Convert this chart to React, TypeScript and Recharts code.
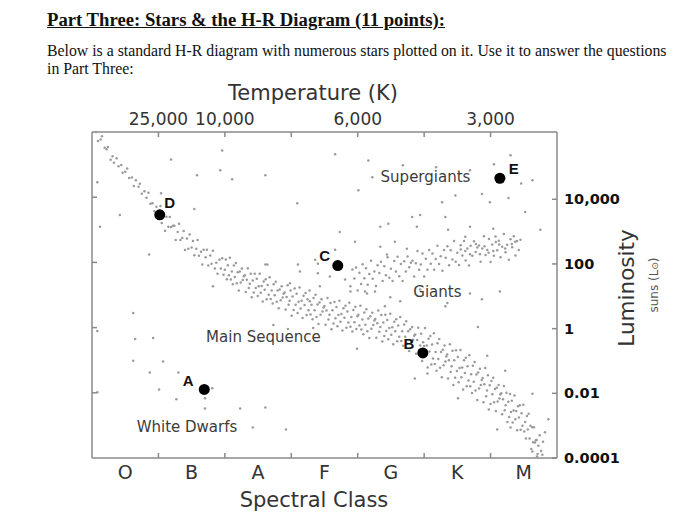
import { Scatter, ScatterChart, XAxis, YAxis } from "recharts";

// x = spectral position (0 = start of O, 7 = end of M), y = log10(L / Lsun)
const spectralClasses = ["O", "B", "A", "F", "G", "K", "M"];
const spectralTicks = [0.5, 1, 1.5, 2, 2.5, 3, 3.5, 4, 4.5, 5, 5.5, 6, 6.5];
const temperatureTicks = [1, 2, 3, 4, 5, 6];
const temperatureLabels = ["25,000", "10,000", "", "6,000", "", "3,000"];
const luminosityTicks = [4, 2, 0, -2, -4];
const luminosityLabels = ["10,000", "100", "1", "0.01", "0.0001"];
const leftTicks = [4, 2, 0, -2];

const mainSequence: [number, number][] = [
  [0.06, 6.08], [0.09, 5.8], [0.13, 5.85], [0.15, 5.95], [0.19, 5.59], [0.22, 5.55], [0.24, 5.62],
  [0.28, 5.22], [0.31, 5.33], [0.33, 5.13], [0.37, 5.27], [0.4, 5.02], [0.44, 5.06], [0.46, 4.82],
  [0.5, 4.85], [0.53, 4.95], [0.56, 4.66], [0.6, 4.67], [0.63, 4.41], [0.66, 4.59], [0.7, 4.39],
  [0.72, 4.48], [0.75, 4.17], [0.79, 4.25], [0.82, 4.05], [0.85, 4.2], [0.88, 3.86], [0.91, 3.88],
  [0.94, 3.63], [0.97, 3.77], [0.99, 3.58],
  [1.03, 3.79], [1.05, 3.27], [1.08, 3.49], [1.1, 3.03], [1.12, 3.46], [1.15, 3.15], [1.17, 3.45],
  [1.19, 3.14], [1.22, 3.18], [1.24, 3.18], [1.26, 2.74], [1.29, 2.99], [1.31, 3.24], [1.33, 2.74],
  [1.36, 2.8], [1.38, 3.02], [1.4, 2.43], [1.43, 2.79], [1.45, 2.47], [1.47, 2.91], [1.5, 2.51],
  [1.52, 2.71], [1.54, 2.27], [1.57, 2.47], [1.59, 2.74], [1.61, 2.25], [1.64, 2.38], [1.66, 1.98],
  [1.68, 2.44], [1.71, 2.21], [1.73, 2.44], [1.75, 1.95], [1.78, 2.26], [1.8, 2.01], [1.82, 2.41],
  [1.85, 1.86], [1.87, 2.04], [1.89, 1.7], [1.92, 2.13], [1.94, 1.86], [1.96, 2.18], [1.98, 1.67],
  [2.0, 1.82], [2.015, 2.14], [2.03, 1.53], [2.045, 1.96], [2.06, 1.65], [2.075, 2.19], [2.09, 1.52],
  [2.105, 1.77], [2.12, 1.37], [2.135, 1.95], [2.15, 1.6], [2.165, 2.03], [2.18, 1.4], [2.195, 1.74],
  [2.21, 1.18], [2.225, 1.77], [2.24, 1.43], [2.255, 1.86], [2.27, 1.5], [2.285, 1.62], [2.3, 1.65],
  [2.315, 1.13], [2.33, 1.51], [2.345, 1.87], [2.36, 1.26], [2.375, 1.39], [2.39, 1.7], [2.405, 0.97],
  [2.42, 1.49], [2.435, 1.12], [2.45, 1.7], [2.465, 1.26], [2.48, 1.54], [2.495, 1.01], [2.51, 1.31],
  [2.525, 1.7], [2.54, 1.11], [2.555, 1.32], [2.57, 0.84], [2.585, 1.46], [2.6, 1.2], [2.615, 1.53],
  [2.63, 0.91], [2.645, 1.35], [2.66, 1.05], [2.675, 1.59], [2.69, 0.92], [2.705, 1.18], [2.72, 0.78],
  [2.735, 1.37], [2.75, 1.03], [2.765, 1.45], [2.78, 0.83], [2.795, 1.18], [2.81, 0.63], [2.825, 1.21],
  [2.84, 0.88], [2.855, 1.31], [2.87, 0.96], [2.885, 1.08], [2.9, 1.12], [2.915, 0.59], [2.93, 0.98],
  [2.945, 1.34], [2.96, 0.74], [2.975, 0.86], [2.99, 1.18],
  [3.005, 0.4], [3.02, 0.99], [3.035, 0.58], [3.05, 1.24], [3.065, 0.74], [3.08, 1.08], [3.095, 0.48],
  [3.11, 0.83], [3.125, 1.27], [3.14, 0.62], [3.155, 0.86], [3.17, 0.33], [3.185, 1.02], [3.2, 0.73],
  [3.215, 1.1], [3.23, 0.42], [3.245, 0.91], [3.26, 0.57], [3.275, 1.18], [3.29, 0.44], [3.305, 0.74],
  [3.32, 0.29], [3.335, 0.95], [3.35, 0.57], [3.365, 1.05], [3.38, 0.36], [3.395, 0.75], [3.41, 0.14],
  [3.425, 0.81], [3.44, 0.43], [3.455, 0.91], [3.47, 0.53], [3.485, 0.65], [3.5, 0.7], [3.515, 0.12],
  [3.53, 0.56], [3.545, 0.95], [3.56, 0.28], [3.575, 0.43], [3.59, 0.79], [3.605, -0.02], [3.62, 0.57],
  [3.635, 0.16], [3.65, 0.82], [3.665, 0.32], [3.68, 0.67], [3.695, 0.07], [3.71, 0.42], [3.725, 0.86],
  [3.74, 0.21], [3.755, 0.45], [3.77, -0.06], [3.785, 0.63], [3.8, 0.34], [3.815, 0.71], [3.83, 0.03],
  [3.845, 0.53], [3.86, 0.19], [3.875, 0.8], [3.89, 0.06], [3.905, 0.36], [3.92, -0.09], [3.935, 0.58],
  [3.95, 0.2], [3.965, 0.68], [3.98, -0.01], [3.995, 0.38],
  [4.01, 0.43], [4.025, 0.1], [4.04, 0.71], [4.055, -0.03], [4.07, 0.28], [4.085, -0.17], [4.1, 0.5],
  [4.115, 0.12], [4.13, 0.6], [4.145, -0.08], [4.16, 0.31], [4.175, -0.29], [4.19, 0.38], [4.205, 0.0],
  [4.22, 0.49], [4.235, 0.11], [4.25, 0.25], [4.265, 0.3], [4.28, -0.28], [4.295, 0.17], [4.31, 0.56],
  [4.325, -0.1], [4.34, 0.05], [4.355, 0.42], [4.37, -0.4], [4.385, 0.19], [4.4, -0.23], [4.415, 0.43],
  [4.43, -0.07], [4.445, 0.27], [4.46, -0.33], [4.475, 0.02], [4.49, 0.46], [4.505, -0.19], [4.52, 0.04],
  [4.535, -0.48], [4.55, 0.21], [4.565, -0.08], [4.58, 0.29], [4.595, -0.39], [4.61, 0.1], [4.625, -0.25],
  [4.64, 0.36], [4.655, -0.38], [4.67, -0.08], [4.685, -0.53], [4.7, 0.13], [4.715, -0.25], [4.73, 0.23],
  [4.745, -0.47], [4.76, -0.08], [4.775, -0.69], [4.79, -0.02], [4.805, -0.41], [4.82, 0.05], [4.835, -0.34],
  [4.85, -0.22], [4.865, -0.18], [4.88, -0.78], [4.895, -0.35], [4.91, 0.03], [4.925, -0.66], [4.94, -0.52],
  [4.955, -0.16], [4.97, -1.0], [4.985, -0.42],
  [5.0, -0.54], [5.013, 0.02], [5.027, -0.82], [5.04, -0.52], [5.053, -1.2], [5.067, -0.31], [5.08, -0.71],
  [5.093, -0.23], [5.107, -1.11], [5.12, -0.49], [5.133, -0.92], [5.147, -0.14], [5.16, -1.09], [5.173, -0.72],
  [5.187, -1.3], [5.2, -0.45], [5.213, -0.94], [5.227, -0.32], [5.24, -1.21], [5.253, -0.72], [5.267, -1.5],
  [5.28, -0.65], [5.293, -1.13], [5.307, -0.52], [5.32, -1.02], [5.333, -0.86], [5.347, -0.8], [5.36, -1.54],
  [5.373, -0.98], [5.387, -0.48], [5.4, -1.34], [5.413, -1.16], [5.427, -0.68], [5.44, -1.74], [5.453, -0.98],
  [5.467, -1.52], [5.48, -0.67], [5.493, -1.31], [5.507, -0.88], [5.52, -1.66], [5.533, -1.22], [5.547, -0.66],
  [5.56, -1.5], [5.573, -1.2], [5.587, -1.88], [5.6, -0.98], [5.613, -1.37], [5.627, -0.9], [5.64, -1.78],
  [5.653, -1.16], [5.667, -1.6], [5.68, -0.82], [5.693, -1.78], [5.707, -1.41], [5.72, -1.99], [5.733, -1.15],
  [5.747, -1.64], [5.76, -1.03], [5.773, -1.91], [5.787, -1.42], [5.8, -2.21], [5.813, -1.36], [5.827, -1.85],
  [5.84, -1.24], [5.853, -1.74], [5.867, -1.59], [5.88, -1.53], [5.893, -2.28], [5.907, -1.72], [5.92, -1.22],
  [5.933, -2.09], [5.947, -1.91], [5.96, -1.44], [5.973, -2.5], [5.987, -1.75],
  [6.0, -2.33], [6.013, -1.62], [6.027, -2.03], [6.04, -1.52], [6.053, -2.28], [6.067, -1.87], [6.08, -2.55],
  [6.093, -1.83], [6.107, -2.25], [6.12, -1.74], [6.133, -2.16], [6.147, -2.04], [6.16, -2.0], [6.173, -2.65],
  [6.187, -2.18], [6.2, -1.77], [6.213, -2.52], [6.227, -2.37], [6.24, -1.98], [6.253, -2.89], [6.267, -2.26],
  [6.28, -2.73], [6.293, -2.02], [6.307, -2.58], [6.32, -2.23], [6.333, -2.9], [6.347, -2.53], [6.36, -2.07],
  [6.373, -2.8], [6.387, -2.55], [6.4, -3.14], [6.413, -2.4], [6.427, -2.75], [6.44, -2.37], [6.453, -3.13],
  [6.467, -2.62], [6.48, -3.0], [6.493, -2.35], [6.507, -3.18], [6.52, -2.89], [6.533, -3.4], [6.547, -2.7],
  [6.56, -3.12], [6.573, -2.63], [6.587, -3.4], [6.6, -3.0], [6.613, -3.72], [6.627, -3.05], [6.64, -3.51],
  [6.653, -3.05], [6.667, -3.52], [6.68, -3.45], [6.693, -3.44], [6.707, -3.88], [6.72, -3.62], [6.74, -3.3],
  [6.76, -3.78], [6.79, -3.5], [6.82, -3.2], [6.7, -3.95], [6.63, -3.8], [6.78, -3.9],
];

const giants: [number, number][] = [
  [3.95, 1.55], [3.975, 1.89], [4.0, 1.18], [4.025, 1.73], [4.05, 1.38], [4.075, 1.99], [4.1, 1.56],
  [4.125, 1.87], [4.15, 1.36], [4.175, 1.69], [4.2, 2.1], [4.225, 1.54], [4.25, 1.77], [4.275, 1.32],
  [4.3, 1.96], [4.325, 1.72], [4.35, 2.07], [4.375, 1.47], [4.4, 1.93], [4.425, 1.65], [4.45, 2.21],
  [4.475, 1.57], [4.5, 1.85], [4.525, 1.47], [4.55, 2.09], [4.575, 1.77], [4.6, 2.22], [4.625, 1.62],
  [4.65, 2.0], [4.675, 1.47], [4.7, 2.08], [4.725, 1.77], [4.75, 2.23], [4.775, 1.9], [4.8, 2.04],
  [4.825, 2.1], [4.85, 1.61], [4.875, 2.02], [4.9, 2.4], [4.925, 1.82], [4.95, 1.98], [4.975, 2.32],
  [5.0, 1.61], [5.025, 2.16], [5.05, 1.82], [5.075, 2.43], [5.1, 2.01], [5.125, 2.32], [5.15, 1.82],
  [5.175, 2.15], [5.2, 2.56], [5.225, 2.0], [5.25, 2.24], [5.275, 1.79], [5.3, 2.43], [5.325, 2.19],
  [5.35, 2.55], [5.375, 1.96], [5.4, 2.42], [5.425, 2.14], [5.45, 2.71], [5.475, 2.07], [5.5, 2.35],
  [5.525, 1.97], [5.55, 2.58], [5.575, 2.26], [5.6, 2.71], [5.625, 2.11], [5.65, 2.48], [5.675, 1.95],
  [5.7, 2.56], [5.725, 2.25], [5.75, 2.7], [5.775, 2.37], [5.8, 2.51], [5.825, 2.57], [5.85, 2.07],
  [5.875, 2.48], [5.9, 2.86], [5.925, 2.28], [5.95, 2.43], [5.975, 2.77], [6.0, 2.06], [6.025, 2.6],
  [6.05, 2.25], [6.075, 2.85], [6.1, 2.42], [6.125, 2.72], [6.15, 2.21], [6.175, 2.53], [6.2, 2.93],
  [6.225, 2.36], [6.25, 2.59], [6.275, 2.13], [6.3, 2.76], [6.325, 2.52], [6.35, 2.86], [6.375, 2.26],
  [6.4, 2.71], [6.425, 2.43], [6.45, 2.75], [5.62, 2.4], [5.78, 2.62], [5.91, 2.55], [6.04, 2.4],
  [6.13, 2.6], [6.22, 2.48], [5.69, 2.3], [5.97, 2.35], [6.32, 2.62], [5.55, 2.45], [5.84, 2.3],
  [6.08, 2.68],
];

const fieldStars: [number, number][] = [
  [3.66, 5.39], [4.16, 5.2], [4.01, 4.28], [4.22, 4.68], [4.68, 5.05], [5.18, 4.99], [5.69, 4.9],
  [5.87, 4.16], [5.99, 3.91], [6.27, 4.04], [6.46, 4.49], [6.63, 4.59], [6.3, 5.36], [6.05, 5.08],
  [5.47, 4.12], [5.27, 3.91], [4.82, 3.45], [4.94, 3.51], [4.46, 3.24], [4.34, 3.15], [4.89, 3.15],
  [5.32, 3.45], [5.36, 3.06], [5.69, 3.15], [5.62, 2.84], [6.04, 3.09], [6.37, 2.69], [3.73, 2.99],
  [3.96, 2.69], [3.66, 2.44], [4.34, 2.53], [4.56, 2.69], [3.36, 2.13], [3.58, 1.61], [3.81, 1.52],
  [3.43, 1.31], [3.89, 1.15], [4.11, 1.15], [3.28, 0.85], [3.13, 1.77], [3.92, 1.83], [3.4, 2.01],
  [4.64, 0.85], [5.32, 0.69], [5.69, 1.09], [4.41, 0.69], [4.94, 1.21], [6.14, 1.15], [6.75, 3.06],
  [6.52, 3.61], [1.19, 5.23], [1.96, 5.51], [1.93, 4.9], [2.11, 4.62], [2.61, 4.74], [1.58, 4.74],
  [1.54, 3.7], [0.42, 3.51], [1.04, 4.19], [0.08, 4.53], [0.12, 3.15], [3.09, 3.88], [1.82, 1.31],
  [0.86, 2.29], [2.61, 1.98], [0.65, -0.32], [0.62, -0.99], [0.87, -1.36], [1.3, -1.36],
  [1.01, -1.88], [1.27, -2.18], [1.7, -2.15], [1.7, -2.47], [2.23, -2.47], [2.61, -2.44],
  [2.42, -3.06], [2.92, -3.12], [1.07, -1.02], [0.92, -0.29], [0.62, 0.48], [0.08, -0.07],
  [0.08, -1.97], [1.81, -1.84], [5.51, -2.15], [4.86, -1.54], [5.05, -1.39], [6.1, -3.12],
  [6.3, -3.06], [6.87, -2.8], [6.63, -2.01], [6.22, -1.3], [5.81, 0.05], [5.95, -0.84], [4.26, 1.15],
  [3.89, 1.31], [4.14, 1.09], [2.98, 1.4], [3.1, 1.98], [3.4, 1.71], [2.64, 1.98], [4.44, 2.29],
  [4.74, 2.47], [3.99, -0.62], [3.33, 0.02], [2.73, 0.11], [2.95, -0.01], [5.35, 0.79], [5.87, 0.91],
  [4.49, 0.97],
];

const namedStars = [
  { name: "D", x: 1.02, y: 3.52 },
  { name: "C", x: 3.7, y: 1.95 },
  { name: "E", x: 6.14, y: 4.65 },
  { name: "B", x: 4.98, y: -0.75 },
  { name: "A", x: 1.69, y: -1.88 },
];

const regions = [
  { text: "Supergiants", x: 5.02, y: 4.62 },
  { text: "Giants", x: 5.2, y: 1.09 },
  { text: "Main Sequence", x: 2.58, y: -0.29 },
  { text: "White Dwarfs", x: 1.43, y: -3.05 },
];

// where each star's letter sits relative to its dot (px)
const letterOffset: Record<string, [number, number]> = {
  D: [10, -12],
  C: [-13, -10],
  E: [14, -10],
  B: [-14, -9],
  A: [-16, -9],
};

const FONT = "'DejaVu Sans', Verdana, sans-serif";
const AXIS = "#8a8a8a";
const TEXT = "#333";

const toPoints = (rows: [number, number][]) => rows.map(([x, y]) => ({ x, y }));
const background = [...toPoints(mainSequence), ...toPoints(giants), ...toPoints(fieldStars)];

const BottomTick = (p: any) => {
  const v = p.payload.value;
  if (Number.isInteger(v)) {
    return <line x1={p.x} y1={p.y} x2={p.x} y2={p.y - 5} stroke={AXIS} strokeWidth={1.5} />;
  }
  return (
    <text x={p.x} y={p.y + 21} textAnchor="middle" fontFamily={FONT} fontSize={19} fill={TEXT}>
      {spectralClasses[Math.floor(v)]}
    </text>
  );
};

const TopTick = (p: any) => {
  const i = temperatureTicks.indexOf(p.payload.value);
  return (
    <g>
      <line x1={p.x} y1={p.y} x2={p.x} y2={p.y + 5} stroke={AXIS} strokeWidth={1.5} />
      <text x={p.x} y={p.y - 7} textAnchor="middle" fontFamily={FONT} fontSize={17} fill={TEXT}>
        {temperatureLabels[i]}
      </text>
    </g>
  );
};

const RightTick = (p: any) => {
  const i = luminosityTicks.indexOf(p.payload.value);
  return (
    <g>
      <line x1={p.x - 5} y1={p.y} x2={p.x} y2={p.y} stroke={AXIS} strokeWidth={1.5} />
      <text x={p.x + 7} y={p.y + 5} fontFamily={FONT} fontSize={14.5} fontWeight="bold" fill="#111">
        {luminosityLabels[i]}
      </text>
    </g>
  );
};

const LeftTick = (p: any) => (
  <line x1={p.x} y1={p.y} x2={p.x + 5} y2={p.y} stroke={AXIS} strokeWidth={1.5} />
);

const Dot = (p: any) => <circle cx={p.cx} cy={p.cy} r={1.25} fill="#9a9a9a" />;

const StarMark = (p: any) => {
  const [dx, dy] = letterOffset[p.payload.name];
  return (
    <g>
      <circle cx={p.cx} cy={p.cy} r={5.5} fill="#000" />
      <text
        x={p.cx + dx}
        y={p.cy + dy}
        textAnchor="middle"
        dominantBaseline="central"
        fontFamily="'Liberation Sans', Arial, sans-serif"
        fontWeight="bold"
        fontSize={15}
        fill="#111"
      >
        {p.payload.name}
      </text>
    </g>
  );
};

const RegionLabel = (p: any) => (
  <text
    x={p.cx}
    y={p.cy}
    textAnchor="middle"
    dominantBaseline="central"
    fontFamily={FONT}
    fontSize={15}
    fill="#3c3c3c"
  >
    {p.payload.text}
  </text>
);

export default function App() {
  return (
    <div
      style={{
        position: "absolute",
        left: 0,
        top: 0,
        width: 700,
        height: 516,
        background: "#fff",
        overflow: "hidden",
      }}
    >
      <div
        style={{
          position: "absolute",
          left: 47,
          top: 9,
          fontFamily: "'Liberation Serif', 'Times New Roman', serif",
          whiteSpace: "nowrap",
          color: "#111",
        }}
      >
        <div style={{ fontSize: 18.7, fontWeight: "bold", textDecoration: "underline", lineHeight: "22px" }}>
          Part Three: Stars &amp; the H-R Diagram (11 points):
        </div>
        <div style={{ fontSize: 15.8, lineHeight: "18px", marginTop: 11 }}>
          Below is a standard H-R diagram with numerous stars plotted on it. Use it to answer the questions
          <br />
          in Part Three:
        </div>
      </div>

      <div style={{ position: "absolute", left: 0, top: 0 }}>
        <ScatterChart width={700} height={516} margin={{ top: 0, right: 0, bottom: 0, left: 0 }}>
          <XAxis
            xAxisId="spectral"
            type="number"
            dataKey="x"
            domain={[0, 7]}
            ticks={spectralTicks}
            interval={0}
            height={58}
            tickSize={0}
            tickMargin={0}
            tickLine={false}
            axisLine={{ stroke: AXIS, strokeWidth: 1.5 }}
            tick={<BottomTick />}
          />
          <XAxis
            xAxisId="temp"
            orientation="top"
            type="number"
            dataKey="x"
            domain={[0, 7]}
            ticks={temperatureTicks}
            interval={0}
            height={132}
            tickSize={0}
            tickMargin={0}
            tickLine={false}
            axisLine={{ stroke: AXIS, strokeWidth: 1.5 }}
            tick={<TopTick />}
          />
          <YAxis
            yAxisId="lum"
            orientation="right"
            type="number"
            dataKey="y"
            domain={[-4, 6]}
            ticks={luminosityTicks}
            interval={0}
            width={143}
            tickSize={0}
            tickMargin={0}
            tickLine={false}
            axisLine={{ stroke: AXIS, strokeWidth: 1.5 }}
            tick={<RightTick />}
          />
          <YAxis
            yAxisId="left"
            orientation="left"
            type="number"
            dataKey="y"
            domain={[-4, 6]}
            ticks={leftTicks}
            interval={0}
            width={92}
            tickSize={0}
            tickMargin={0}
            tickLine={false}
            axisLine={{ stroke: AXIS, strokeWidth: 1.5 }}
            tick={<LeftTick />}
          />
          <Scatter
            data={background}
            xAxisId="spectral"
            yAxisId="lum"
            shape={<Dot />}
            isAnimationActive={false}
          />
          <Scatter
            data={regions}
            xAxisId="temp"
            yAxisId="left"
            shape={<RegionLabel />}
            isAnimationActive={false}
          />
          <Scatter
            data={namedStars}
            xAxisId="spectral"
            yAxisId="lum"
            shape={<StarMark />}
            isAnimationActive={false}
          />
        </ScatterChart>
      </div>

      <svg
        width={700}
        height={516}
        style={{ position: "absolute", left: 0, top: 0, pointerEvents: "none" }}
      >
        <text x={313} y={100} textAnchor="middle" fontFamily={FONT} fontSize={21} fill={TEXT}>
          Temperature (K)
        </text>
        <text x={314} y={507} textAnchor="middle" fontFamily={FONT} fontSize={21} fill={TEXT}>
          Spectral Class
        </text>
        <text
          x={634}
          y={288}
          transform="rotate(-90 634 288)"
          textAnchor="middle"
          fontFamily={FONT}
          fontSize={21.5}
          fill={TEXT}
        >
          Luminosity
        </text>
        <text
          x={658}
          y={285}
          transform="rotate(-90 658 285)"
          textAnchor="middle"
          fontFamily={FONT}
          fontSize={12}
          fill="#555"
        >
          suns (L<tspan fontSize={9}>⊙</tspan>)
        </text>
      </svg>
    </div>
  );
}
